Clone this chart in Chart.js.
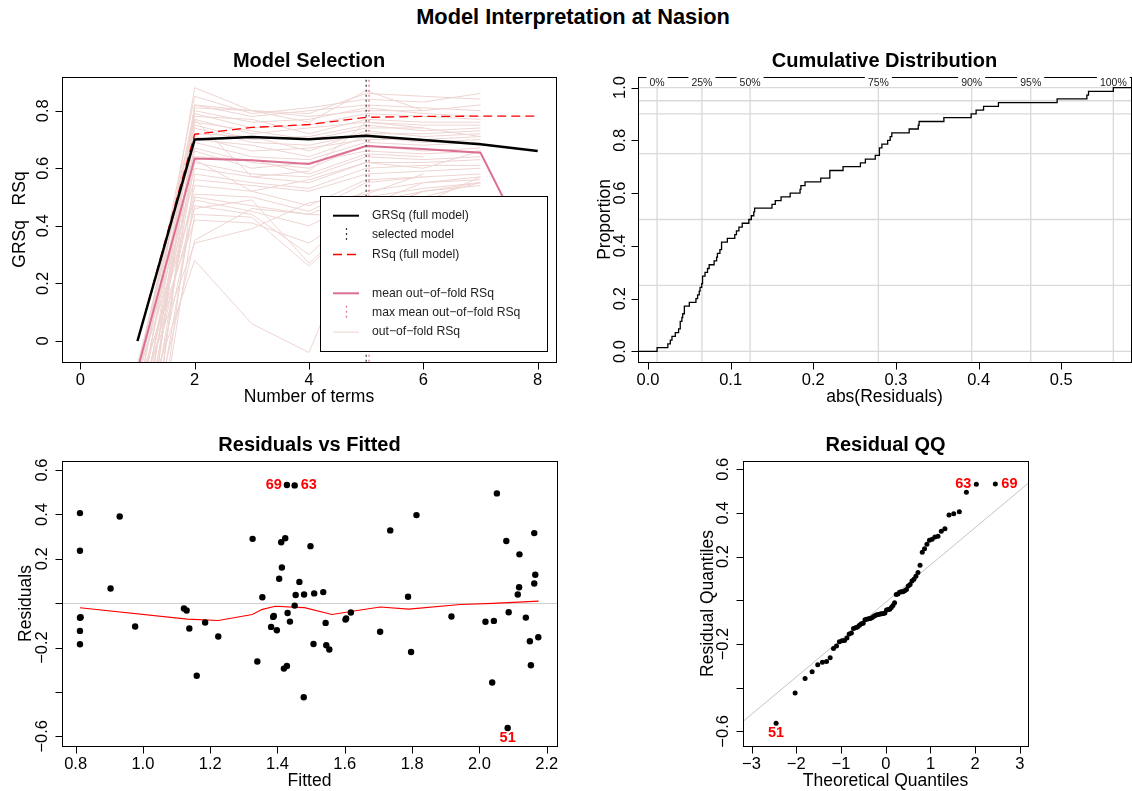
<!DOCTYPE html>
<html lang="en">
<head>
<meta charset="utf-8">
<title>Model Interpretation at Nasion</title>
<script src="https://cdn.jsdelivr.net/npm/chart.js@4.4.1/dist/chart.umd.min.js"></script>
<style>
  html, body { margin: 0; padding: 0; background: #fff; }
  #page { position: relative; width: 1132px; height: 791px; overflow: hidden; background: #fff; }
  #page canvas { position: absolute; left: 0; top: 0; }
  #mainTitle { position: absolute; left: 7px; top: 5px; width: 1132px; text-align: center;
    font: bold 21.8px "Liberation Sans", Arial, Helvetica, sans-serif; line-height: 24px; color: #000; }
</style>
</head>
<body>
<div id="page">
  <div id="mainTitle">Model Interpretation at Nasion</div>
  <canvas id="cSel" width="1132" height="791"></canvas>
  <canvas id="cCdf" width="1132" height="791"></canvas>
  <canvas id="cRes" width="1132" height="791"></canvas>
  <canvas id="cQQ" width="1132" height="791"></canvas>
</div>
<script>
// ---------------- Model selection (earth pruning pass + cross-validation) ----------------
const nTerms      = [1, 2, 3, 4, 5, 6, 7, 8];
const grsqFull    = [0.000, 0.700, 0.709, 0.701, 0.713, 0.698, 0.683, 0.660];
const rsqFull     = [0.000, 0.718, 0.742, 0.752, 0.777, 0.780, 0.781, 0.781];
const meanOofRsq  = [-0.100, 0.634, 0.628, 0.615, 0.677, 0.667, 0.654, 0.260];
const selectedTerms   = 5;
const maxMeanOofTerms = 5;

// out-of-fold RSq per fold, starting at 1 term
const oofRsqByFold = [
  [-0.30, 0.88, 0.80, 0.79, 0.86, 0.85, 0.84],
  [-0.15, 0.85, 0.79, 0.81, 0.84, 0.83, 0.86],
  [-0.60, 0.82, 0.78, 0.80, 0.82, 0.81, 0.80],
  [-0.20, 0.81, 0.80, 0.78, 0.80, 0.80],
  [-0.45, 0.80, 0.76, 0.77, 0.81, 0.79, 0.78],
  [-0.10, 0.79, 0.74, 0.75, 0.79, 0.78, 0.77],
  [-0.35, 0.78, 0.77, 0.72, 0.77, 0.76, 0.76],
  [-0.80, 0.77, 0.72, 0.74, 0.76, 0.75, 0.75],
  [-0.25, 0.76, 0.73, 0.70, 0.74, 0.74],
  [-0.12, 0.75, 0.70, 0.71, 0.75, 0.73, 0.74],
  [-0.50, 0.74, 0.69, 0.68, 0.72, 0.72, 0.73],
  [-0.18, 0.72, 0.71, 0.66, 0.73, 0.71, 0.72],
  [-0.40, 0.71, 0.66, 0.67, 0.70, 0.70, 0.71],
  [-0.08, 0.70, 0.68, 0.64, 0.71, 0.69, 0.70],
  [-0.70, 0.69, 0.64, 0.63, 0.69, 0.68, 0.69],
  [-0.22, 0.67, 0.62, 0.60, 0.68, 0.66, 0.67],
  [-0.30, 0.66, 0.60, 0.62, 0.66, 0.65, 0.66],
  [-0.14, 0.64, 0.63, 0.58, 0.65, 0.64],
  [-0.55, 0.62, 0.58, 0.57, 0.64, 0.63, 0.64],
  [-0.28, 0.60, 0.57, 0.55, 0.62, 0.62, 0.63],
  [-0.90, 0.58, 0.55, 0.53, 0.60, 0.61, 0.61],
  [-0.10, 0.56, 0.54, 0.52, 0.58, 0.59, 0.60],
  [-0.38, 0.54, 0.52, 0.47, 0.56, 0.57, 0.58],
  [-0.20, 0.51, 0.50, 0.45, 0.55, 0.57],
  [-0.65, 0.50, 0.47, 0.44, 0.52, 0.55, 0.57],
  [-0.12, 0.49, 0.45, 0.40, 0.50, 0.53, 0.55],
  [-0.45, 0.47, 0.44, 0.30, 0.48, 0.52, 0.54],
  [-0.25, 0.46, 0.49, 0.27, 0.45, 0.52],
  [-0.80, 0.44, 0.43, 0.26, 0.44, 0.50, 0.55],
  [-0.16, 0.42, 0.41, 0.34, 0.47, 0.55, 0.56],
  [-0.50, 0.35, 0.46, 0.44, 0.43, 0.48, 0.57],
  [-0.30, 0.28, 0.06, -0.04, 0.44, 0.52, 0.55],
  [-0.20, 0.34, 0.39, 0.48, 0.51, 0.58],
  [-0.60, 0.82, 0.80, 0.76, 0.87, 0.80, 0.82],
  [-0.10, 0.77, 0.57, 0.59, 0.76, 0.74, 0.71],
  [-0.35, 0.63, 0.52, 0.56, 0.62, 0.60, 0.66]
];

// ---------------- Residuals, by case number 1..70 ----------------
const fitted = [
  0.813, 0.813, 0.931, 0.904, 0.813, 0.813, 0.813, 0.977, 1.122, 1.130,
  1.138, 1.185, 1.160, 1.224, 1.326, 1.340, 1.355, 1.389, 2.175, 1.411,
  1.423, 1.498, 1.413, 1.405, 1.465, 1.454, 1.479, 1.509, 1.536, 1.451,
  1.430, 1.387, 1.437, 1.381, 1.398, 1.543, 1.602, 1.618, 1.507, 1.545,
  1.554, 1.419, 1.428, 1.478, 1.735, 1.813, 1.788, 1.705, 1.797, 1.917,
  2.084, 2.080, 2.163, 2.119, 2.166, 2.163, 2.118, 2.114, 2.087, 2.018,
  2.043, 2.138, 1.451, 2.150, 2.153, 2.038, 2.052, 0.815, 1.428, 1.604
];
const residuals = [
  0.406, 0.236, 0.391, 0.066, -0.066, -0.125, -0.185, -0.105, -0.024, -0.033,
  -0.114, -0.087, -0.327, -0.150, 0.290, -0.263, 0.027, -0.058, -0.154, 0.275,
  0.293, 0.257, 0.161, 0.110, 0.096, 0.037, 0.039, 0.044, 0.050, -0.011,
  -0.044, -0.062, -0.083, -0.107, -0.122, -0.089, -0.074, -0.042, -0.184, -0.190,
  -0.209, -0.295, -0.283, -0.424, 0.328, 0.397, 0.029, -0.129, -0.220, -0.060,
  -0.563, 0.280, 0.316, 0.220, 0.128, 0.089, 0.072, 0.039, -0.041, -0.084,
  -0.080, -0.065, 0.531, -0.172, -0.280, -0.358, 0.495, -0.063, 0.533, -0.069
];
const labelledCases = [51, 63, 69];

// smooth through the residuals
const smoothFitted = [0.813, 1.132, 1.224, 1.325, 1.355, 1.394, 1.458, 1.480, 1.562, 1.627, 1.705, 1.790, 1.943, 2.040, 2.176];
const smoothResid  = [-0.021, -0.072, -0.078, -0.051, -0.028, -0.014, -0.019, -0.020, -0.051, -0.035, -0.017, -0.027, -0.006, -0.001, 0.009];

// cumulative distribution annotations
const quantileLevels = [0, 0.25, 0.5, 0.75, 0.9, 0.95, 1];
const quantileLabels = ['0%', '25%', '50%', '75%', '90%', '95%', '100%'];

// ---------------- Tick values and labels ----------------
const selTicksX = [0, 2, 4, 6, 8];
const selTickLabelsX = ['0', '2', '4', '6', '8'];
const selTicksY = [0, 0.2, 0.4, 0.6, 0.8];
const selTickLabelsY = ['0', '0.2', '0.4', '0.6', '0.8'];
const cdfTicksX = [0, 0.1, 0.2, 0.3, 0.4, 0.5];
const cdfTickLabelsX = ['0.0', '0.1', '0.2', '0.3', '0.4', '0.5'];
const cdfTicksY = [0, 0.2, 0.4, 0.6, 0.8, 1.0];
const cdfTickLabelsY = ['0.0', '0.2', '0.4', '0.6', '0.8', '1.0'];
const resTicksX = [0.8, 1.0, 1.2, 1.4, 1.6, 1.8, 2.0, 2.2];
const resTickLabelsX = ['0.8', '1.0', '1.2', '1.4', '1.6', '1.8', '2.0', '2.2'];
const resTicksY = [-0.6, -0.4, -0.2, 0, 0.2, 0.4, 0.6];
const resTickLabelsY = ['\u22120.6', '', '\u22120.2', '', '0.2', '0.4', '0.6'];
const qqTicksX = [-3, -2, -1, 0, 1, 2, 3];
const qqTickLabelsX = ['\u22123', '\u22122', '\u22121', '0', '1', '2', '3'];
const qqTicksY = [-0.6, -0.4, -0.2, 0, 0.2, 0.4, 0.6];
const qqTickLabelsY = ['\u22120.6', '', '\u22120.2', '', '0.2', '0.4', '0.6'];

// ---------------- Helpers ----------------
const FONT = '"Liberation Sans", Arial, Helvetica, sans-serif';
const TICK_FONT = '16.5px ' + FONT;
const LAB_FONT = '17.5px ' + FONT;
const PANEL_FONT = 'bold 20px ' + FONT;
const PVR = '#DB7093';      // palevioletred
const OOF = '#EED5D2';      // mistyrose2
const PAGE_W = 1132, PAGE_H = 791;

function xy(xs, ys) { return xs.map((x, i) => ({ x: x, y: ys[i] })); }

// sample quantile, R type 7
function quantile7(sorted, p) {
  const h = (sorted.length - 1) * p;
  const lo = Math.floor(h);
  const hi = Math.min(lo + 1, sorted.length - 1);
  return sorted[lo] + (h - lo) * (sorted[hi] - sorted[lo]);
}

// inverse standard normal CDF (Acklam's rational approximation)
function qnorm(p) {
  const a = [-3.969683028665376e+01, 2.209460984245205e+02, -2.759285104469687e+02, 1.383577518672690e+02, -3.066479806614716e+01, 2.506628277459239e+00];
  const b = [-5.447609879822406e+01, 1.615858368580409e+02, -1.556989798598866e+02, 6.680131188771972e+01, -1.328068155288572e+01];
  const c = [-7.784894002430293e-03, -3.223964580411365e-01, -2.400758277161838e+00, -2.549732539343734e+00, 4.374664141464968e+00, 2.938163982698783e+00];
  const d = [7.784695709041462e-03, 3.224671290700398e-01, 2.445134137142996e+00, 3.754408661907416e+00];
  const pl = 0.02425;
  if (p < pl) {
    const q = Math.sqrt(-2 * Math.log(p));
    return (((((c[0]*q+c[1])*q+c[2])*q+c[3])*q+c[4])*q+c[5]) / ((((d[0]*q+d[1])*q+d[2])*q+d[3])*q+1);
  }
  if (p > 1 - pl) {
    const q = Math.sqrt(-2 * Math.log(1 - p));
    return -(((((c[0]*q+c[1])*q+c[2])*q+c[3])*q+c[4])*q+c[5]) / ((((d[0]*q+d[1])*q+d[2])*q+d[3])*q+1);
  }
  const q = p - 0.5, r = q * q;
  return (((((a[0]*r+a[1])*r+a[2])*r+a[3])*r+a[4])*r+a[5])*q / (((((b[0]*r+b[1])*r+b[2])*r+b[3])*r+b[4])*r+1);
}

// R-style frame: box, outward ticks, rotated y labels, titles
function rPanel(spec) {
  return {
    id: 'rPanel',
    beforeDatasetsDraw(chart) {
      if (spec.under) { chart.ctx.save(); spec.under(chart); chart.ctx.restore(); }
    },
    afterDatasetsDraw(chart) {
      if (spec.over) { chart.ctx.save(); spec.over(chart); chart.ctx.restore(); }
    },
    afterDraw(chart) {
      const ctx = chart.ctx, a = chart.chartArea;
      const xs = chart.scales.x, ys = chart.scales.y;
      ctx.save();
      ctx.strokeStyle = '#000'; ctx.fillStyle = '#000'; ctx.lineWidth = 1;
      ctx.strokeRect(a.left + 0.5, a.top + 0.5, a.right - a.left, a.bottom - a.top);
      ctx.beginPath();
      spec.xTicks.forEach(v => {
        const px = Math.round(xs.getPixelForValue(v)) + 0.5;
        ctx.moveTo(px, a.bottom + 0.5); ctx.lineTo(px, a.bottom + 7.5);
      });
      spec.yTicks.forEach(v => {
        const py = Math.round(ys.getPixelForValue(v)) + 0.5;
        ctx.moveTo(a.left + 0.5, py); ctx.lineTo(a.left - 6.5, py);
      });
      ctx.stroke();
      ctx.textAlign = 'center'; ctx.textBaseline = 'middle';
      ctx.font = TICK_FONT;
      spec.xTicks.forEach((v, i) => {
        ctx.fillText(spec.xLabels[i], xs.getPixelForValue(v), a.bottom + 18);
      });
      spec.yTicks.forEach((v, i) => {
        if (!spec.yLabels[i]) return;
        ctx.save();
        ctx.translate(a.left - spec.yLabOff, ys.getPixelForValue(v));
        ctx.rotate(-Math.PI / 2);
        ctx.fillText(spec.yLabels[i], 0, 0);
        ctx.restore();
      });
      ctx.font = LAB_FONT;
      ctx.fillText(spec.xTitle, (a.left + a.right) / 2, a.bottom + 35);
      ctx.save();
      ctx.translate(a.left - spec.yTitleOff, (a.top + a.bottom) / 2);
      ctx.rotate(-Math.PI / 2);
      ctx.fillText(spec.yTitle, 0, 0);
      ctx.restore();
      ctx.font = PANEL_FONT;
      ctx.fillText(spec.title, (a.left + a.right) / 2, a.top - 16);
      if (spec.top) spec.top(chart);
      ctx.restore();
    }
  };
}

function baseOptions(box, xr, yr) {
  return {
    responsive: false,
    animation: false,
    devicePixelRatio: 1,
    events: [],
    layout: { padding: { left: box[0], top: box[1], right: PAGE_W - box[2], bottom: PAGE_H - box[3] } },
    scales: {
      x: { type: 'linear', min: xr[0], max: xr[1], display: false },
      y: { type: 'linear', min: yr[0], max: yr[1], display: false }
    },
    plugins: { legend: { display: false }, tooltip: { enabled: false }, title: { display: false } },
    elements: { point: { radius: 0 }, line: { tension: 0 } }
  };
}

// ---------------- Panel 1: Model Selection ----------------
const selLegend = [
  { label: 'GRSq (full model)', kind: 'h', color: '#000', width: 2, dash: [] },
  { label: 'selected model', kind: 'v', color: '#333', width: 1.2, dash: [2, 3] },
  { label: 'RSq (full model)', kind: 'h', color: '#ff0000', width: 1.3, dash: [9, 5] },
  null,
  { label: 'mean out\u2212of\u2212fold RSq', kind: 'h', color: PVR, width: 2, dash: [] },
  { label: 'max mean out\u2212of\u2212fold RSq', kind: 'v', color: PVR, width: 1.2, dash: [2, 3] },
  { label: 'out\u2212of\u2212fold RSq', kind: 'h', color: OOF, width: 1, dash: [] }
];

const selDatasets = [
  { data: xy(nTerms, grsqFull), borderColor: '#000', borderWidth: 2.5 },
  { data: xy(nTerms, rsqFull), borderColor: '#ff0000', borderWidth: 1.3, borderDash: [9, 5] },
  { data: [{ x: selectedTerms, y: -2 }, { x: selectedTerms, y: 2 }], borderColor: '#333', borderWidth: 1.2, borderDash: [2, 3] },
  { data: [{ x: maxMeanOofTerms + 0.05, y: -2 }, { x: maxMeanOofTerms + 0.05, y: 2 }], borderColor: PVR, borderWidth: 1.2, borderDash: [2, 3] },
  { data: xy(nTerms, meanOofRsq), borderColor: PVR, borderWidth: 2 }
].concat(oofRsqByFold.map(f => ({ data: xy(nTerms.slice(0, f.length), f), borderColor: OOF, borderWidth: 1 })));

new Chart(document.getElementById('cSel'), {
  type: 'line',
  data: { datasets: selDatasets },
  options: baseOptions([62, 77, 556, 362], [-0.32, 8.32], [-0.073, 0.917]),
  plugins: [rPanel({
    title: 'Model Selection', xTitle: 'Number of terms', yTitle: 'GRSq   RSq',
    xTicks: selTicksX, xLabels: selTickLabelsX, yTicks: selTicksY, yLabels: selTickLabelsY,
    yLabOff: 19, yTitleOff: 42,
    over(chart) {
      const ctx = chart.ctx, a = chart.chartArea;
      const bx = a.right - 236, by = a.bottom - 166, bw = 227, bh = 155;
      ctx.fillStyle = '#fff';
      ctx.fillRect(bx, by, bw, bh);
      ctx.strokeStyle = '#000'; ctx.lineWidth = 1;
      ctx.strokeRect(bx + 0.5, by + 0.5, bw, bh);
      ctx.font = '12.2px ' + FONT;
      ctx.textAlign = 'left'; ctx.textBaseline = 'middle';
      selLegend.forEach((e, k) => {
        if (!e) return;
        const ry = by + 19.7 + k * 19.4;
        ctx.save();
        ctx.strokeStyle = e.color; ctx.lineWidth = e.width; ctx.setLineDash(e.dash);
        ctx.beginPath();
        if (e.kind === 'h') { ctx.moveTo(bx + 13, ry); ctx.lineTo(bx + 39, ry); }
        else { ctx.moveTo(bx + 26.5, ry - 7); ctx.lineTo(bx + 26.5, ry + 8); }
        ctx.stroke();
        ctx.restore();
        ctx.fillStyle = '#222';
        ctx.fillText(e.label, bx + 52, ry);
      });
    }
  })]
});

// ---------------- Panel 2: Cumulative Distribution ----------------
const absSorted = residuals.map(Math.abs).sort((p, q) => p - q);
const nRes = absSorted.length;
const cdfQuantiles = quantileLevels.map(p => quantile7(absSorted, p));
const cdfSteps = [{ x: -1, y: 0 }]
  .concat(absSorted.map((v, i) => ({ x: v, y: (i + 1) / nRes })))
  .concat([{ x: 2, y: 1 }]);

new Chart(document.getElementById('cCdf'), {
  type: 'line',
  data: { datasets: [{ data: cdfSteps, borderColor: '#000', borderWidth: 1.3, stepped: 'before' }] },
  options: baseOptions([638, 77, 1131, 362], [-0.0121, 0.5844], [-0.04, 1.04]),
  plugins: [rPanel({
    title: 'Cumulative Distribution', xTitle: 'abs(Residuals)', yTitle: 'Proportion',
    xTicks: cdfTicksX, xLabels: cdfTickLabelsX, yTicks: cdfTicksY, yLabels: cdfTickLabelsY,
    yLabOff: 18, yTitleOff: 33,
    under(chart) {
      const ctx = chart.ctx, a = chart.chartArea, x = chart.scales.x, y = chart.scales.y;
      ctx.strokeStyle = '#d9d9d9'; ctx.lineWidth = 1.3;
      ctx.beginPath();
      cdfQuantiles.forEach(q => { const px = x.getPixelForValue(q); ctx.moveTo(px, a.top); ctx.lineTo(px, a.bottom); });
      quantileLevels.forEach(p => { const py = y.getPixelForValue(p); ctx.moveTo(a.left, py); ctx.lineTo(a.right, py); });
      ctx.stroke();
    },
    top(chart) {
      const ctx = chart.ctx, a = chart.chartArea, x = chart.scales.x;
      ctx.font = '10.5px ' + FONT;
      ctx.textAlign = 'center'; ctx.textBaseline = 'middle';
      quantileLabels.forEach((lab, i) => {
        const px = x.getPixelForValue(cdfQuantiles[i]);
        const w = ctx.measureText(lab).width;
        ctx.fillStyle = '#fff';
        ctx.fillRect(px - w / 2 - 3, a.top - 2, w + 6, 11);
        ctx.fillStyle = '#222';
        ctx.fillText(lab, px, a.top + 6);
      });
    }
  })]
});

// ---------------- Panel 3: Residuals vs Fitted ----------------
const CASE_FONT = 'bold 14.5px ' + FONT;
function drawCaseLabel(ctx, px, py, text, side) {
  ctx.font = CASE_FONT; ctx.fillStyle = '#ff0000'; ctx.textBaseline = 'middle';
  if (side === 'left') { ctx.textAlign = 'right'; ctx.fillText(text, px - 5, py); }
  else if (side === 'right') { ctx.textAlign = 'left'; ctx.fillText(text, px + 6, py); }
  else { ctx.textAlign = 'center'; ctx.fillText(text, px, py + 10); }
}
const resLabelSide = { 69: 'left', 63: 'right', 51: 'below' };

new Chart(document.getElementById('cRes'), {
  type: 'scatter',
  data: { datasets: [
    { data: xy(fitted, residuals), pointRadius: 3.2, pointBackgroundColor: '#000', pointBorderWidth: 0, showLine: false },
    { data: xy(smoothFitted, smoothResid), type: 'line', borderColor: '#ff0000', borderWidth: 1.1, pointRadius: 0 }
  ] },
  options: baseOptions([62, 461, 557, 746], [0.7596, 2.2306], [-0.644, 0.641]),
  plugins: [rPanel({
    title: 'Residuals vs Fitted', xTitle: 'Fitted', yTitle: 'Residuals',
    xTicks: resTicksX, xLabels: resTickLabelsX, yTicks: resTicksY, yLabels: resTickLabelsY,
    yLabOff: 20, yTitleOff: 36,
    under(chart) {
      const ctx = chart.ctx, a = chart.chartArea, y = chart.scales.y;
      const py = Math.round(y.getPixelForValue(0)) + 0.5;
      ctx.strokeStyle = '#cfcfcf'; ctx.lineWidth = 1;
      ctx.beginPath(); ctx.moveTo(a.left, py); ctx.lineTo(a.right, py); ctx.stroke();
    },
    over(chart) {
      const ctx = chart.ctx, x = chart.scales.x, y = chart.scales.y;
      labelledCases.forEach(c => {
        drawCaseLabel(ctx, x.getPixelForValue(fitted[c - 1]), y.getPixelForValue(residuals[c - 1]), String(c), resLabelSide[c]);
      });
    }
  })]
});

// ---------------- Panel 4: Residual QQ ----------------
const resOrder = residuals.map((r, i) => i).sort((p, q) => residuals[p] - residuals[q]);
const qqPoints = resOrder.map((idx, k) => ({ x: qnorm((k + 0.5) / nRes), y: residuals[idx], caseNo: idx + 1 }));
const resSorted = resOrder.map(i => residuals[i]);
const qq1 = quantile7(resSorted, 0.25), qq3 = quantile7(resSorted, 0.75);
const qqSlope = (qq3 - qq1) / (qnorm(0.75) - qnorm(0.25));
const qqIntercept = qq1 - qqSlope * qnorm(0.25);
const qqLabelSide = { 69: 'right', 63: 'left', 51: 'below' };

new Chart(document.getElementById('cQQ'), {
  type: 'scatter',
  data: { datasets: [
    { data: qqPoints, pointRadius: 2.5, pointBackgroundColor: '#000', pointBorderWidth: 0, showLine: false },
    { data: [{ x: -4, y: qqIntercept - 4 * qqSlope }, { x: 4, y: qqIntercept + 4 * qqSlope }], type: 'line', borderColor: '#c4c4c4', borderWidth: 1, pointRadius: 0 }
  ] },
  options: baseOptions([743, 461, 1028, 746], [-3.19, 3.18], [-0.667, 0.638]),
  plugins: [rPanel({
    title: 'Residual QQ', xTitle: 'Theoretical Quantiles', yTitle: 'Residual Quantiles',
    xTicks: qqTicksX, xLabels: qqTickLabelsX, yTicks: qqTicksY, yLabels: qqTickLabelsY,
    yLabOff: 20, yTitleOff: 35,
    over(chart) {
      const ctx = chart.ctx, x = chart.scales.x, y = chart.scales.y;
      qqPoints.forEach(p => {
        if (labelledCases.indexOf(p.caseNo) < 0) return;
        drawCaseLabel(ctx, x.getPixelForValue(p.x), y.getPixelForValue(p.y), String(p.caseNo), qqLabelSide[p.caseNo]);
      });
    }
  })]
});
</script>
</body>
</html>
